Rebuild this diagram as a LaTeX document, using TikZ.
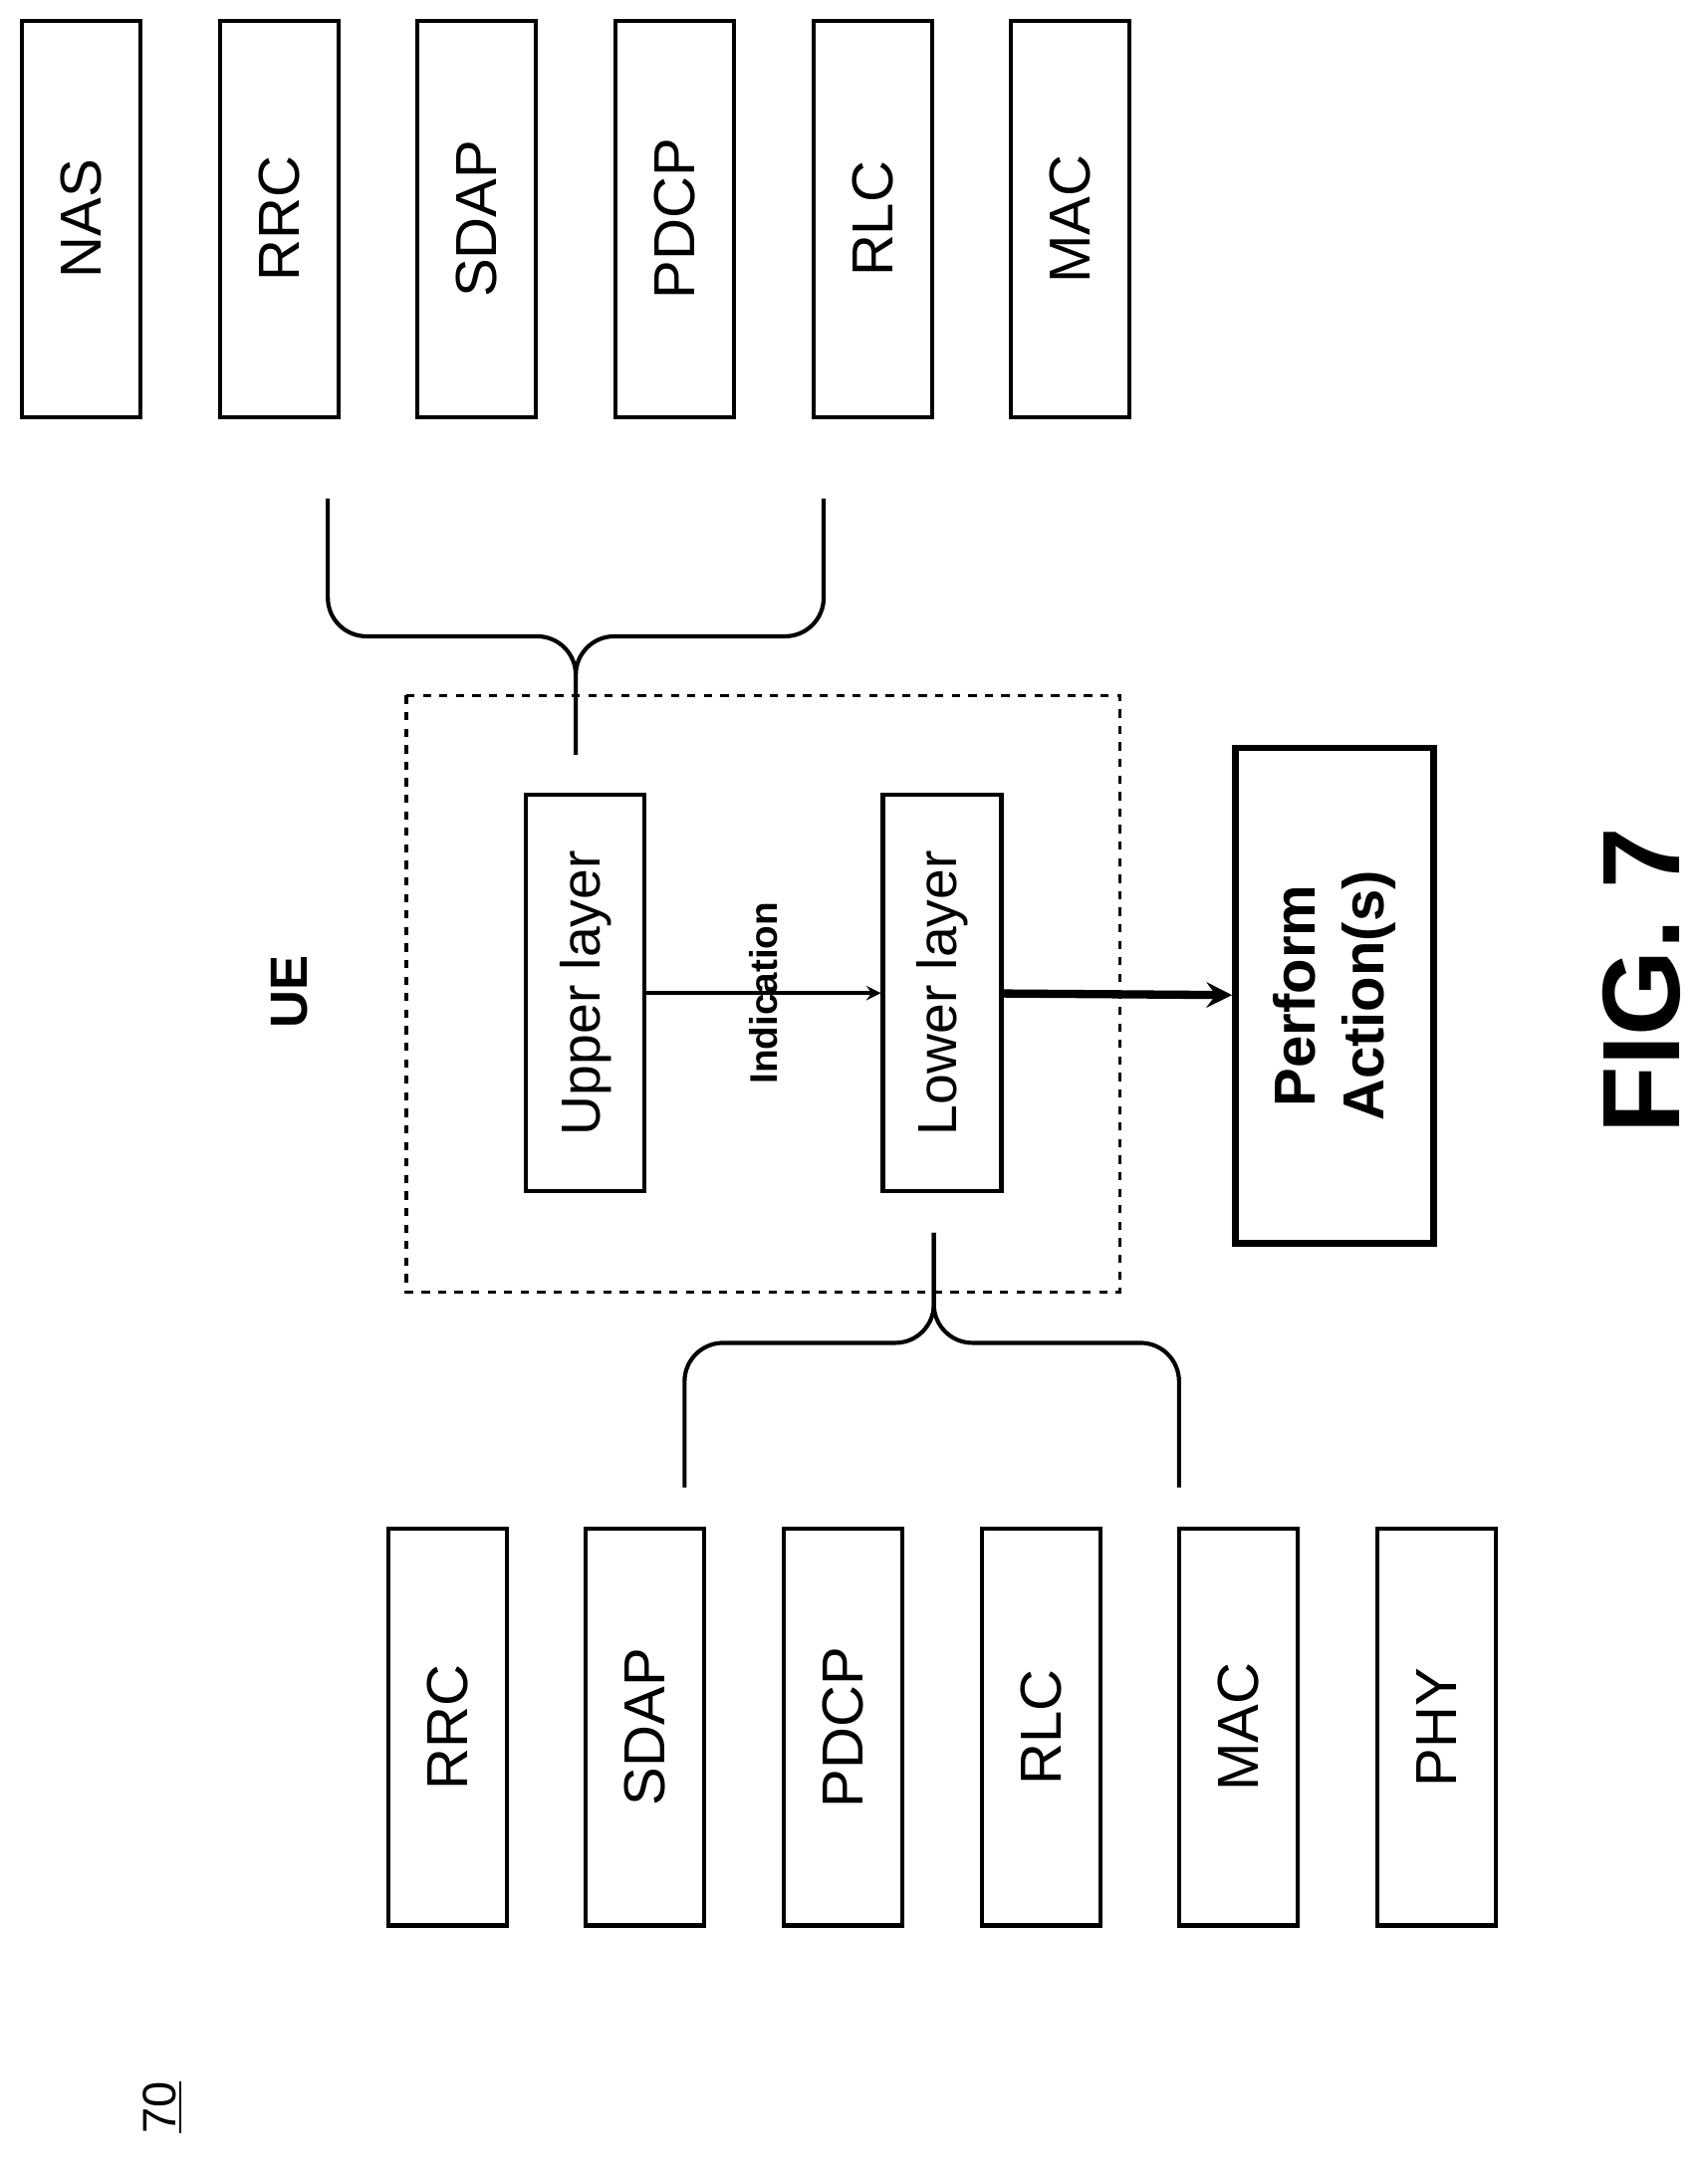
\documentclass[tikz,border=0pt]{standalone}
\usepackage{fontspec}
\setmainfont{Liberation Sans}
\usetikzlibrary{positioning,calc}

\tikzset{
  layer/.style={draw,line width=1.5pt,minimum width=43pt,minimum height=144pt,inner sep=0pt},
  brace/.style={line width=1.5pt,rounded corners=14pt},
}

\begin{document}
\begin{tikzpicture}[x=0.5pt,y=-0.5pt]
  \useasboundingbox (0,0) rectangle (1240,1577);

  % top stack
  \foreach \name/\lbl/\x in {tNAS/NAS/59, tRRC/RRC/203, tSDAP/SDAP/346, tPDCP/PDCP/490, tRLC/RLC/634, tMAC/MAC/777}
    \node[layer] (\name) at (\x,159) {\rotatebox{90}{\fontsize{21}{24}\selectfont\lbl}};

  % bottom stack
  \foreach \name/\lbl/\x in {bRRC/RRC/325, bSDAP/SDAP/468, bPDCP/PDCP/612, bRLC/RLC/756, bMAC/MAC/899, bPHY/PHY/1043}
    \node[layer] (\name) at (\x,1254) {\rotatebox{90}{\fontsize{21}{24}\selectfont\lbl}};

  % braces
  \coordinate (topstem) at (418,548);
  \coordinate (botstem) at (678,895);
  \draw[brace] (238,362) -- (238,462) -- (418,462) -- (topstem);
  \draw[brace] (598,362) -- (598,462) -- (418,462) -- (topstem);
  \draw[brace] (497,1080) -- (497,975) -- (678,975) -- (botstem);
  \draw[brace] (856,1080) -- (856,975) -- (678,975) -- (botstem);

  % UE
  \draw[dashed,line width=1.2pt] (295,505) rectangle (813,938);
  \node[rotate=90,font=\bfseries\fontsize{19}{22}\selectfont] (ue) at (210,720) {UE};
  \node[layer] (upper) at (425,721) {\rotatebox{90}{\fontsize{20}{24}\selectfont Upper layer}};
  \node[layer] (lower) at (684,721) {\rotatebox{90}{\fontsize{20}{24}\selectfont Lower layer}};
  \draw[->,line width=1.3pt,>=stealth] (upper) -- (lower)
    node[midway,rotate=90,font=\bfseries\fontsize{14}{16}\selectfont] {Indication};

  \node[draw,line width=2.5pt,minimum width=72pt,minimum height=180pt,inner sep=0pt] (perform) at (969,723)
    {\rotatebox{90}{\parbox{150pt}{\centering\bfseries\fontsize{21}{25}\selectfont Perform\\Action(s)}}};
  \draw[->,line width=3pt,>=stealth] (lower) -- (perform);

  \node[rotate=90,font=\bfseries\fontsize{40}{44}\selectfont] (fig) at (1192,712) {FIG. 7};
  \node[rotate=90,font=\fontsize{17}{20}\selectfont] (ref) at (118,1530) {\underline{70}};
\end{tikzpicture}
\end{document}
